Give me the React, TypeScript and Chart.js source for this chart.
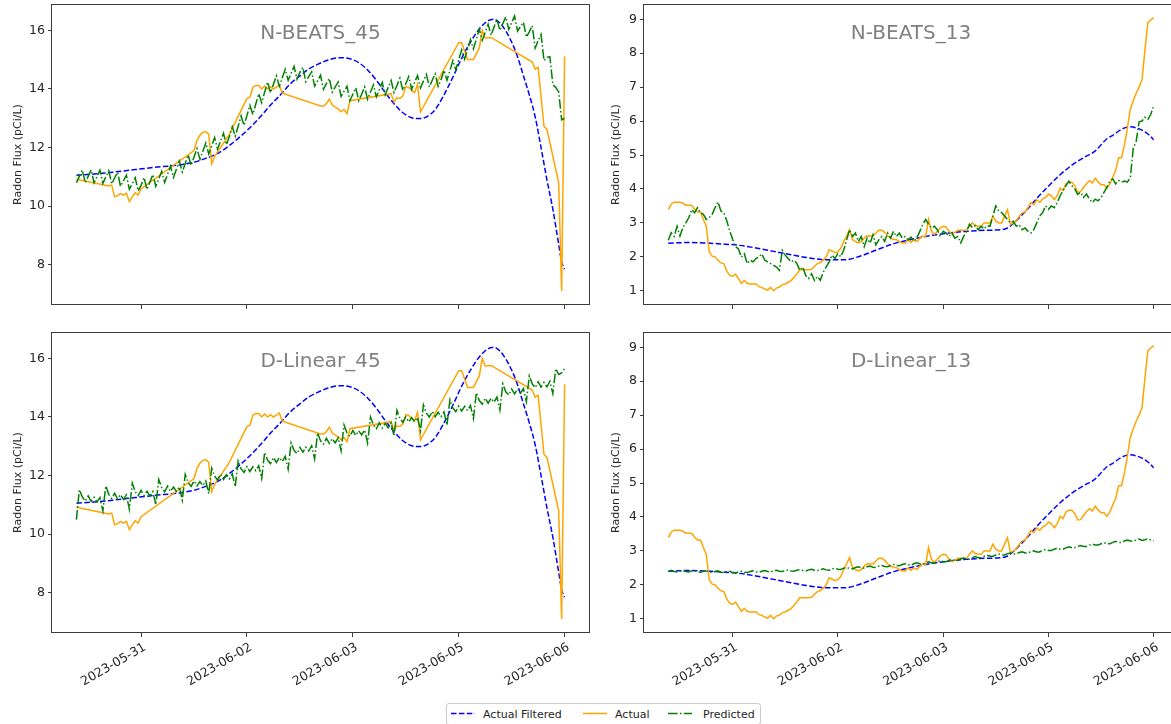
import React, { useEffect, useRef } from 'react';
import { Chart, registerables } from 'chart.js';

Chart.register(...registerables);
Chart.defaults.font.family = 'DejaVu Sans';

// ---------------- DATA ----------------
const START_HOUR = 14; // hours since 2023-05-30 00:00, hourly series start here
const X_MIN = 5.7;
const X_MAX = 188.3;
const TICK_HOURS = [36, 72, 108, 144, 180];
const TICK_LABELS = ['2023-05-31', '2023-06-02', '2023-06-03', '2023-06-05', '2023-06-06'];
const Y_TICKS_45 = [8, 10, 12, 14, 16];
const Y_TICKS_13 = [1, 2, 3, 4, 5, 6, 7, 8, 9];
const SERIES_NAMES = ['Actual Filtered', 'Actual', 'Predicted'];
const PANEL_TITLES = ['N-BEATS_45', 'N-BEATS_13', 'D-Linear_45', 'D-Linear_13'];

const ACTUAL_45_HOURS = [14, 25, 26, 27, 28, 29, 30, 31, 32, 33, 34, 35, 36, 54, 55, 56, 57, 58, 59, 60, 61, 66, 72, 73, 74, 75, 76, 77, 78, 79, 80, 81, 82, 83, 84, 97, 98, 99, 100, 101, 102, 103, 104, 105, 106, 107, 121, 122, 123, 124, 125, 126, 127, 128, 129, 130, 131, 144, 145, 146, 147, 149, 151, 152, 153, 155, 169, 170, 171, 173, 174, 178, 179, 180];
const ACTUAL_45 = [10.92, 10.69, 10.72, 10.32, 10.36, 10.44, 10.38, 10.44, 10.16, 10.32, 10.46, 10.38, 10.6, 11.9, 12.25, 12.42, 12.52, 12.55, 12.45, 11.45, 11.7, 12.45, 13.68, 13.72, 14.06, 14.12, 14.12, 14.0, 14.1, 14.0, 14.08, 14.0, 14.06, 14.14, 13.86, 13.42, 13.42, 13.5, 13.65, 13.45, 13.38, 13.32, 13.22, 13.3, 13.16, 13.6, 13.84, 13.56, 13.7, 13.68, 13.76, 14.08, 14.05, 13.95, 13.88, 14.16, 13.22, 15.58, 15.58, 15.3, 15.01, 15.01, 15.4, 16.0, 15.74, 15.76, 14.92, 14.68, 14.74, 12.72, 12.62, 10.8, 7.1, 15.12];

const FILTERED_45_HOURS = [14, 20, 27, 34, 40, 49, 54, 57, 61, 64, 67, 70, 74, 77, 80, 83, 87, 90, 93, 96, 100, 104, 107, 110, 113, 116, 119, 122, 125, 128, 131, 133, 136, 139, 142, 145, 148, 151, 154, 156, 158, 160, 162, 164, 166, 168, 170, 172, 174, 176, 178, 179, 180];
const FILTERED_45 = [11.06, 11.1, 11.17, 11.25, 11.32, 11.41, 11.5, 11.6, 11.75, 11.92, 12.15, 12.4, 12.78, 13.1, 13.45, 13.76, 14.2, 14.45, 14.68, 14.84, 15.0, 15.07, 15.03, 14.9, 14.65, 14.3, 13.88, 13.5, 13.19, 13.02, 12.99, 13.05, 13.3, 13.8, 14.4, 15.05, 15.6, 16.05, 16.33, 16.38, 16.25, 15.98, 15.6, 15.1, 14.45, 13.8, 13.05, 12.0, 10.9, 9.9, 8.7, 8.1, 7.85];

// hourly, hours 14..180
const PRED_NBEATS_45 = [
  10.80, 11.02, 11.24, 10.80, 11.02, 11.24, 10.80, 11.01, 11.23, 10.78,
  11.00, 11.21, 10.76, 10.97, 11.16, 10.68, 10.87, 11.06, 10.58, 10.77,
  10.97, 10.52, 10.72, 10.98, 10.57, 10.83, 11.08, 10.68, 10.93, 11.19,
  10.81, 11.09, 11.37, 10.98, 11.26, 11.54, 11.17, 11.46, 11.75, 11.39,
  11.68, 11.97, 11.60, 11.88, 12.16, 11.78, 12.06, 12.34, 11.95, 12.22,
  12.49, 12.10, 12.37, 12.71, 12.39, 12.73, 13.08, 12.76, 13.10, 13.44,
  13.13, 13.49, 13.84, 13.53, 13.89, 14.24, 13.87, 14.16, 14.45, 14.09,
  14.38, 14.67, 14.30, 14.53, 14.77, 14.34, 14.57, 14.74, 14.25, 14.42,
  14.59, 14.10, 14.28, 14.47, 13.99, 14.18, 14.36, 13.89, 14.07, 14.24,
  13.75, 13.92, 14.09, 13.60, 13.82, 14.04, 13.60, 13.82, 14.07, 13.65,
  13.90, 14.14, 13.73, 13.97, 14.22, 13.80, 14.05, 14.29, 13.88, 14.12,
  14.37, 13.95, 14.18, 14.42, 13.99, 14.23, 14.46, 14.04, 14.27, 14.50,
  14.07, 14.30, 14.52, 14.09, 14.32, 14.64, 14.30, 14.62, 14.97, 14.65,
  15.00, 15.34, 15.02, 15.35, 15.69, 15.37, 15.70, 16.04, 15.66, 15.93,
  16.21, 15.83, 16.11, 16.38, 16.00, 16.23, 16.46, 16.03, 16.26, 16.49,
  15.98, 16.13, 16.28, 15.77, 15.95, 16.16, 15.40, 15.65, 15.86, 14.97,
  15.08, 15.10, 14.15, 14.05, 13.90, 12.95, 13.00,
];

const PRED_DLINEAR_45 = [
  10.50, 11.52, 11.27, 11.13, 11.31, 11.12, 11.26, 11.10, 11.25, 10.79,
  11.65, 11.36, 11.22, 11.40, 11.21, 11.35, 11.19, 11.34, 10.85, 11.74,
  11.45, 11.32, 11.50, 11.32, 11.46, 11.31, 11.46, 11.00, 11.87, 11.59,
  11.45, 11.64, 11.46, 11.61, 11.46, 11.62, 11.16, 12.04, 11.76, 11.63,
  11.82, 11.65, 11.80, 11.66, 11.82, 11.38, 12.25, 11.98, 11.85, 12.05,
  11.87, 12.03, 11.89, 12.06, 11.62, 12.50, 12.23, 12.11, 12.31, 12.14,
  12.30, 12.17, 12.34, 11.90, 12.79, 12.53, 12.41, 12.62, 12.45, 12.62,
  12.48, 12.66, 12.22, 13.12, 12.86, 12.75, 12.96, 12.80, 12.97, 12.84,
  13.02, 12.57, 13.46, 13.19, 13.07, 13.27, 13.10, 13.26, 13.12, 13.29,
  12.85, 13.73, 13.46, 13.34, 13.54, 13.37, 13.53, 13.39, 13.56, 13.11,
  14.00, 13.73, 13.60, 13.80, 13.62, 13.78, 13.63, 13.80, 13.35, 14.23,
  13.95, 13.82, 14.01, 13.83, 13.98, 13.83, 13.99, 13.53, 14.41, 14.13,
  14.00, 14.19, 14.01, 14.16, 14.01, 14.17, 13.72, 14.59, 14.31, 14.18,
  14.37, 14.20, 14.36, 14.22, 14.39, 13.95, 14.83, 14.56, 14.44, 14.64,
  14.47, 14.64, 14.50, 14.68, 14.24, 15.13, 14.86, 14.75, 14.95, 14.79,
  14.95, 14.81, 14.97, 14.53, 15.40, 15.13, 15.00, 15.20, 15.02, 15.18,
  15.03, 15.22, 14.80, 15.65, 15.45, 15.50, 15.65,
];

// hourly, hours 14..180
const ACTUAL_13 = [
  3.39, 3.55, 3.61, 3.61, 3.61, 3.58, 3.52, 3.52, 3.52, 3.40,
  3.32, 3.32, 3.10, 2.90, 2.15, 2.02, 2.00, 1.90, 1.82, 1.80,
  1.58, 1.46, 1.42, 1.49, 1.36, 1.22, 1.30, 1.22, 1.20, 1.20,
  1.20, 1.12, 1.10, 1.05, 1.02, 1.10, 1.00, 1.08, 1.11, 1.18,
  1.20, 1.25, 1.30, 1.40, 1.50, 1.62, 1.62, 1.62, 1.62, 1.63,
  1.72, 1.80, 1.83, 1.90, 2.00, 2.20, 2.17, 2.12, 2.15, 2.25,
  2.45, 2.62, 2.80, 2.51, 2.45, 2.41, 2.45, 2.55, 2.62, 2.61,
  2.61, 2.70, 2.78, 2.78, 2.72, 2.62, 2.55, 2.51, 2.51, 2.45,
  2.41, 2.41, 2.50, 2.43, 2.50, 2.45, 2.55, 2.61, 2.60, 3.10,
  2.75, 2.66, 2.75, 2.85, 2.90, 2.88, 2.75, 2.68, 2.72, 2.78,
  2.78, 2.78, 2.78, 2.90, 3.00, 2.92, 2.90, 2.90, 3.00, 3.00,
  3.00, 3.20, 3.05, 3.00, 3.00, 3.20, 3.39, 2.95, 3.00, 3.05,
  3.20, 3.29, 3.32, 3.45, 3.60, 3.54, 3.68, 3.60, 3.70, 3.75,
  3.85, 3.80, 3.68, 3.80, 4.02, 3.95, 4.15, 4.20, 4.20, 4.10,
  3.91, 3.92, 4.05, 4.15, 4.24, 4.18, 4.32, 4.20, 4.12, 4.12,
  4.02, 4.15, 4.35, 4.55, 4.92, 4.92, 5.30, 5.80, 6.35, 6.60,
  6.82, 7.00, 7.22, 8.10, 8.90, 8.98, 9.05,
];

const FILTERED_13_HOURS = [14, 20, 26, 32, 38, 44, 50, 56, 62, 68, 74, 80, 86, 92, 98, 104, 110, 116, 122, 128, 130, 132, 134, 137, 140, 144, 148, 152, 156, 160, 162, 164, 166, 169, 172, 175, 178, 180];
const FILTERED_13 = [2.40, 2.42, 2.41, 2.38, 2.34, 2.26, 2.16, 2.06, 1.97, 1.91, 1.91, 2.03, 2.23, 2.41, 2.53, 2.63, 2.70, 2.75, 2.78, 2.80, 2.85, 2.98, 3.15, 3.42, 3.72, 4.08, 4.42, 4.70, 4.92, 5.12, 5.30, 5.48, 5.58, 5.76, 5.83, 5.77, 5.62, 5.45];

const PRED_NBEATS_13 = [
  2.49, 2.71, 2.60, 2.90, 2.61, 2.86, 3.00, 3.15, 3.39, 3.30,
  3.45, 3.30, 3.25, 3.10, 3.15, 3.25, 3.45, 3.62, 3.35, 3.30,
  3.06, 2.77, 2.52, 2.30, 2.23, 1.99, 2.09, 1.80, 1.90, 1.85,
  1.95, 2.00, 2.09, 1.90, 1.85, 1.80, 1.75, 1.70, 1.60, 2.19,
  2.05, 1.95, 1.85, 1.90, 1.80, 1.60, 1.70, 1.45, 1.36, 1.50,
  1.30, 1.42, 1.31, 1.55, 1.70, 1.85, 2.05, 1.95, 2.10, 2.00,
  2.20, 2.50, 2.80, 2.60, 2.70, 2.45, 2.60, 2.30, 2.55, 2.40,
  2.65, 2.35, 2.50, 2.60, 2.45, 2.70, 2.55, 2.75, 2.60, 2.70,
  2.55, 2.60, 2.50, 2.58, 2.46, 2.56, 2.75, 2.95, 3.10, 2.96,
  2.85, 2.90, 2.80, 2.60, 2.75, 2.70, 2.60, 2.70, 2.55, 2.60,
  2.41, 2.60, 2.75, 2.96, 2.86, 2.92, 2.80, 2.90, 2.82, 2.92,
  2.90, 3.20, 3.50, 3.35, 3.30, 3.20, 3.10, 3.00, 3.05, 2.90,
  2.95, 2.80, 2.85, 2.75, 2.70, 2.80, 3.00, 3.20, 3.30, 3.50,
  3.40, 3.50, 3.45, 3.60, 3.80, 3.95, 4.10, 4.23, 4.10, 4.00,
  3.84, 3.90, 3.75, 3.85, 3.70, 3.60, 3.70, 3.65, 3.75, 3.90,
  4.05, 4.23, 4.30, 4.15, 4.25, 4.20, 4.23, 4.20, 4.33, 5.20,
  5.40, 5.98, 6.00, 6.11, 6.05, 6.20, 6.45,
];

const PRED_DLINEAR_13 = [
  2.39, 2.43, 2.39, 2.38, 2.41, 2.42, 2.39, 2.38, 2.41, 2.42,
  2.38, 2.37, 2.40, 2.41, 2.38, 2.36, 2.39, 2.41, 2.37, 2.36,
  2.39, 2.40, 2.36, 2.35, 2.38, 2.40, 2.37, 2.36, 2.39, 2.41,
  2.38, 2.37, 2.40, 2.42, 2.39, 2.38, 2.41, 2.43, 2.40, 2.39,
  2.42, 2.44, 2.41, 2.40, 2.43, 2.45, 2.42, 2.41, 2.44, 2.46,
  2.43, 2.42, 2.45, 2.47, 2.44, 2.43, 2.47, 2.49, 2.46, 2.45,
  2.49, 2.51, 2.48, 2.47, 2.51, 2.53, 2.50, 2.49, 2.53, 2.55,
  2.52, 2.51, 2.55, 2.57, 2.54, 2.53, 2.57, 2.60, 2.57, 2.56,
  2.60, 2.62, 2.59, 2.58, 2.62, 2.65, 2.62, 2.61, 2.65, 2.68,
  2.65, 2.64, 2.68, 2.71, 2.68, 2.68, 2.72, 2.75, 2.72, 2.72,
  2.76, 2.79, 2.76, 2.76, 2.80, 2.83, 2.80, 2.80, 2.84, 2.87,
  2.84, 2.84, 2.88, 2.91, 2.88, 2.88, 2.92, 2.94, 2.91, 2.91,
  2.95, 2.97, 2.94, 2.94, 2.98, 3.00, 2.97, 2.97, 3.01, 3.04,
  3.01, 3.01, 3.05, 3.08, 3.05, 3.05, 3.09, 3.12, 3.09, 3.09,
  3.13, 3.16, 3.13, 3.13, 3.17, 3.20, 3.17, 3.17, 3.21, 3.24,
  3.21, 3.21, 3.25, 3.28, 3.25, 3.25, 3.29, 3.32, 3.29, 3.29,
  3.32, 3.35, 3.31, 3.33, 3.36, 3.32, 3.30,
];

// ---------------- STYLE ----------------
const COLOR_FILTERED = '#0000ff';
const COLOR_ACTUAL = '#ffa500';
const COLOR_PRED = '#008000';
const DASH_FILTERED = [5.5, 2.4];
const DASH_PRED = [9.6, 2.4, 1.5, 2.4];
const AXIS_COLOR = '#3c3c3c';
const TEXT_COLOR = '#262626';

type Pt = { x: number; y: number };
const hourly = (vals: number[]): Pt[] => vals.map((y, i) => ({ x: START_HOUR + i, y }));
const paired = (hours: number[], vals: number[]): Pt[] => hours.map((x, i) => ({ x, y: vals[i] }));

interface PanelProps {
  title: string;
  left: number;
  top: number;
  width: number;
  height: number;
  padTop: number;
  padRight: number;
  yAxisW: number;
  xAxisH: number;
  yMin: number;
  yMax: number;
  yTicks: number[];
  showXLabels: boolean;
  yTitlePad: number;
  filtered: Pt[];
  actual: Pt[];
  predicted: Pt[];
}

function Panel(p: PanelProps) {
  const ref = useRef<HTMLCanvasElement | null>(null);
  useEffect(() => {
    if (!ref.current) return;
    const framePlugin = {
      id: 'frameAndTitle',
      afterDraw(chart: any) {
        const { ctx, chartArea: a } = chart;
        ctx.save();
        ctx.strokeStyle = AXIS_COLOR;
        ctx.lineWidth = 1;
        ctx.strokeRect(
          Math.round(a.left) - 0.5,
          Math.round(a.top) + 0.5,
          Math.round(a.right - a.left) + 1,
          Math.round(a.bottom - a.top) - 1
        );
        ctx.fillStyle = '#808080';
        ctx.font = '20px "DejaVu Sans"';
        ctx.textAlign = 'center';
        ctx.textBaseline = 'alphabetic';
        ctx.fillText(p.title, (a.left + a.right) / 2, a.top + 35);
        ctx.restore();
      },
    };
    const tickFont = { family: 'DejaVu Sans', size: 12.5 };
    const chart = new Chart(ref.current, {
      type: 'line',
      data: {
        datasets: [
          {
            label: SERIES_NAMES[2],
            data: p.predicted,
            borderColor: COLOR_PRED,
            borderWidth: 1.5,
            borderDash: DASH_PRED,
            pointRadius: 0,
            tension: 0,
            fill: false,
          },
          {
            label: SERIES_NAMES[1],
            data: p.actual,
            borderColor: COLOR_ACTUAL,
            borderWidth: 1.5,
            pointRadius: 0,
            tension: 0,
            fill: false,
          },
          {
            label: SERIES_NAMES[0],
            data: p.filtered,
            borderColor: COLOR_FILTERED,
            borderWidth: 1.5,
            borderDash: DASH_FILTERED,
            pointRadius: 0,
            cubicInterpolationMode: 'monotone',
            fill: false,
          },
        ],
      },
      options: {
        animation: false,
        responsive: false,
        devicePixelRatio: 1,
        events: [],
        layout: { padding: { top: p.padTop, right: p.padRight, bottom: 0, left: 0 } },
        plugins: {
          legend: { display: false },
          tooltip: { enabled: false },
          title: { display: false },
        },
        scales: {
          x: {
            type: 'linear',
            min: X_MIN,
            max: X_MAX,
            afterBuildTicks: (s: any) => {
              s.ticks = TICK_HOURS.map((v) => ({ value: v }));
            },
            afterFit: (s: any) => {
              s.height = p.xAxisH;
              s.paddingLeft = 0;
              s.paddingRight = 0;
            },
            grid: { drawOnChartArea: false, drawTicks: true, tickLength: 4, color: AXIS_COLOR, lineWidth: 1 },
            border: { display: false },
            ticks: {
              display: p.showXLabels,
              autoSkip: false,
              minRotation: 30,
              maxRotation: 30,
              padding: 3,
              labelOffset: 4,
              font: tickFont,
              color: TEXT_COLOR,
              callback: (v: any) => {
                const i = TICK_HOURS.indexOf(Number(v));
                return i >= 0 ? TICK_LABELS[i] : '';
              },
            },
          },
          y: {
            type: 'linear',
            min: p.yMin,
            max: p.yMax,
            afterBuildTicks: (s: any) => {
              s.ticks = p.yTicks.map((v) => ({ value: v }));
            },
            afterFit: (s: any) => {
              s.width = p.yAxisW;
              s.paddingTop = 0;
              s.paddingBottom = 0;
            },
            grid: { drawOnChartArea: false, drawTicks: true, tickLength: 4, color: AXIS_COLOR, lineWidth: 1 },
            border: { display: false },
            ticks: {
              autoSkip: false,
              padding: 3,
              font: tickFont,
              color: TEXT_COLOR,
              callback: (v: any) => String(v),
            },
            title: {
              display: true,
              text: 'Radon Flux (pCi/L)',
              color: TEXT_COLOR,
              font: { family: 'DejaVu Sans', size: 11 },
              padding: { top: p.yTitlePad, bottom: 0 },
            },
          },
        },
      },
      plugins: [framePlugin],
    } as any);
    return () => chart.destroy();
  }, []);
  return (
    <canvas
      ref={ref}
      width={p.width}
      height={p.height}
      style={{ position: 'absolute', left: p.left, top: p.top, width: p.width, height: p.height }}
    />
  );
}

function Legend() {
  const items = [
    { name: SERIES_NAMES[0], color: COLOR_FILTERED, dash: DASH_FILTERED.join(' '), x1: 5, tx: 37 },
    { name: SERIES_NAMES[1], color: COLOR_ACTUAL, dash: '', x1: 137, tx: 169 },
    { name: SERIES_NAMES[2], color: COLOR_PRED, dash: DASH_PRED.join(' '), x1: 222, tx: 257 },
  ];
  return (
    <svg width={316} height={22} style={{ position: 'absolute', left: 446, top: 703 }}>
      <rect x={0.5} y={0.5} width={314} height={21} rx={2.5} fill="white" stroke="#cccccc" />
      {items.map((it) => (
        <g key={it.name}>
          <line
            x1={it.x1}
            x2={it.x1 + 24}
            y1={10.5}
            y2={10.5}
            stroke={it.color}
            strokeWidth={1.5}
            strokeDasharray={it.dash || undefined}
          />
          <text x={it.tx} y={14.5} fontFamily="DejaVu Sans" fontSize={11} fill={TEXT_COLOR}>
            {it.name}
          </text>
        </g>
      ))}
    </svg>
  );
}

export default function App() {
  const common45 = { yMin: 6.63, yMax: 16.9, yTicks: Y_TICKS_45 };
  const common13 = { yMin: 0.58, yMax: 9.45, yTicks: Y_TICKS_13 };
  const act45 = paired(ACTUAL_45_HOURS, ACTUAL_45);
  const fil45 = paired(FILTERED_45_HOURS, FILTERED_45);
  const act13 = hourly(ACTUAL_13);
  const fil13 = paired(FILTERED_13_HOURS, FILTERED_13);
  return (
    <div
      style={{
        position: 'fixed',
        left: 0,
        top: 0,
        width: 1171,
        height: 724,
        overflow: 'hidden',
        background: 'white',
      }}
    >
      <Panel
        title={PANEL_TITLES[0]}
        left={0} top={0} width={600} height={325}
        padTop={4} padRight={11} yAxisW={52} xAxisH={20}
        {...common45}
        showXLabels={false} yTitlePad={12}
        filtered={fil45} actual={act45} predicted={hourly(PRED_NBEATS_45)}
      />
      <Panel
        title={PANEL_TITLES[1]}
        left={590} top={0} width={600} height={325}
        padTop={4} padRight={12} yAxisW={54} xAxisH={20}
        {...common13}
        showXLabels={false} yTitlePad={20}
        filtered={fil13} actual={act13} predicted={hourly(PRED_NBEATS_13)}
      />
      <Panel
        title={PANEL_TITLES[2]}
        left={0} top={327} width={600} height={373}
        padTop={5} padRight={11} yAxisW={52} xAxisH={67}
        {...common45}
        showXLabels={true} yTitlePad={12}
        filtered={fil45} actual={act45} predicted={hourly(PRED_DLINEAR_45)}
      />
      <Panel
        title={PANEL_TITLES[3]}
        left={590} top={327} width={600} height={373}
        padTop={5} padRight={12} yAxisW={54} xAxisH={67}
        {...common13}
        showXLabels={true} yTitlePad={20}
        filtered={fil13} actual={act13} predicted={hourly(PRED_DLINEAR_13)}
      />
      <Legend />
    </div>
  );
}
